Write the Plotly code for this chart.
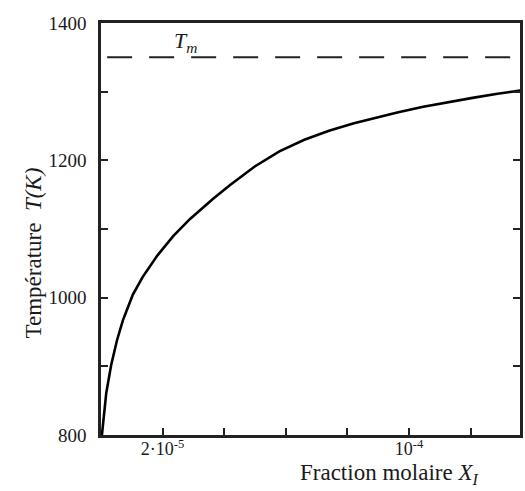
import plotly.graph_objects as go

# Data
x_fraction = [0.03e-5, 0.1e-5, 0.17e-5, 0.33e-5, 0.52e-5, 0.71e-5, 1.03e-5, 1.35e-5, 1.84e-5,
              2.35e-5, 2.9e-5, 3.64e-5, 4.19e-5, 4.99e-5, 5.79e-5, 6.6e-5, 7.4e-5, 8.21e-5,
              9.01e-5, 9.65e-5, 10.46e-5, 11.26e-5, 12.06e-5, 12.87e-5, 13.67e-5]
temperature = [800, 836, 861, 902, 938, 967, 1004, 1030, 1062,
               1090, 1115, 1144, 1164, 1191, 1213, 1230, 1243, 1254,
               1263, 1270, 1278, 1285, 1291, 1297, 1302]
t_melt = 1350
x_ticks = [2e-5, 4e-5, 6e-5, 8e-5, 10e-5, 12e-5]
x_ticktext = ["2·10<sup>-5</sup>", "", "", "", "10<sup>-4</sup>", ""]
y_ticks = [800, 900, 1000, 1100, 1200, 1300, 1400]
y_ticktext = ["800", "", "1000", "", "1200", "", "1400"]
x_range = [0, 1.36e-4]
y_range = [800, 1400]

FONT = "Liberation Serif"
INK = "#1a1a1a"
fig = go.Figure()
fig.add_trace(go.Scatter(x=x_fraction, y=temperature, mode="lines",
                         line=dict(color="black", width=2.6),
                         showlegend=False))
fig.add_trace(go.Scatter(x=[0.2e-5, x_range[1]], y=[t_melt, t_melt], mode="lines",
                         line=dict(color="#222", width=2, dash="25px,17px"),
                         showlegend=False))

fig.add_annotation(x=2.74e-5, y=1372, text="<i>T<sub>m</sub></i>", showarrow=False,
                   font=dict(family=FONT, size=22, color=INK))
fig.add_annotation(xref="paper", yref="paper", x=(391 - 101) / 422, y=-(474 - 435) / 412,
                   text="Fraction molaire <i>X<sub>I</sub></i>", showarrow=False,
                   font=dict(family=FONT, size=23, color=INK),
                   xanchor="center", yanchor="middle")
fig.add_annotation(xref="paper", yref="paper", x=-(101 - 33) / 422, y=(435 - 253) / 412,
                   text="Température  <i>T(K)</i>", showarrow=False, textangle=-90,
                   font=dict(family=FONT, size=23, color=INK),
                   xanchor="center", yanchor="middle")

fig.update_xaxes(range=x_range, tickvals=x_ticks, ticktext=x_ticktext, ticks="inside",
                 ticklen=7, tickwidth=1.5, tickcolor="#222", showline=True, linewidth=2.5,
                 linecolor="#222", mirror=True, showgrid=False, zeroline=False,
                 ticklabelstandoff=-4,
                 tickfont=dict(family=FONT, size=18, color=INK))
fig.update_yaxes(range=y_range, tickvals=y_ticks, ticktext=y_ticktext, ticks="inside",
                 ticklen=7, tickwidth=1.5, tickcolor="#222", showline=True, linewidth=2.5,
                 linecolor="#222", mirror="ticks", showgrid=False, zeroline=False,
                 ticklabelstandoff=8,
                 tickfont=dict(family=FONT, size=19, color=INK))
fig.update_layout(width=525, height=491, plot_bgcolor="white", paper_bgcolor="white",
                  margin=dict(l=101, r=2, t=23, b=56))
# remove the browser's default 8px body margin so the figure fills the window exactly
fig.write_html("out.html", config={"displayModeBar": False},
               post_script="document.body.style.margin='0';document.body.style.overflow='hidden';")
